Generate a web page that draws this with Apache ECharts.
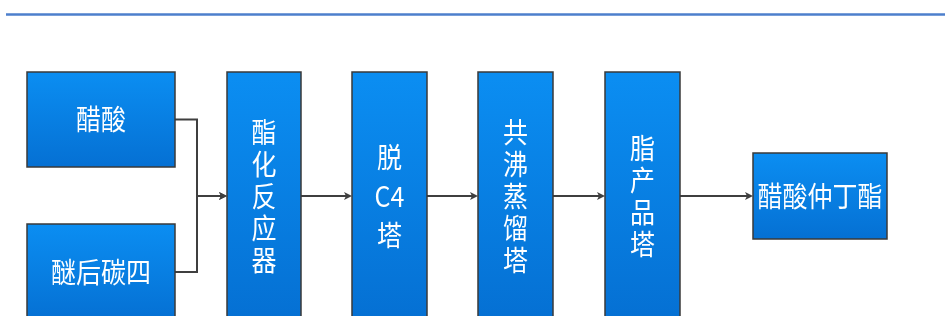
<!DOCTYPE html>
<html>
<head>
<meta charset="utf-8">
<script src="https://cdn.jsdelivr.net/npm/echarts@6/dist/echarts.min.js"></script>
<style>html,body{margin:0;padding:0;background:#fff}#c{width:945px;height:316px}</style>
</head>
<body>
<div id="c"></div>
<script>
// Node labels (vertical boxes use one line per character group)
const nodeNames = ['醋酸', '醚后碳四', '酯\n化\n反\n应\n器', '脱\nC4\n塔', '共\n沸\n蒸\n馏\n塔', '脂\n产\n品\n塔', '醋酸仲丁酯'];
// Node layout boxes in chart units: [x0, y0, x1, y1]
const nodeLayout = [
  [27, 72, 175, 167],
  [27, 224, 175, 320],
  [227, 72, 301, 320],
  [352, 72, 427, 320],
  [478, 72, 553, 320],
  [605, 72, 680, 320],
  [753, 153, 887, 239]
];
const nodeLineHeight = [28, 28, 28, 34, 28, 28, 28];
// Edges: [from, to]
const edges = [[0, 2], [1, 2], [2, 3], [3, 4], [4, 5], [5, 6]];
const junctionX = 197;

const chart = echarts.init(document.getElementById('c'));

const nodeData = nodeNames.map((n, i) => [nodeLayout[i][0], nodeLayout[i][1], nodeLayout[i][2], nodeLayout[i][3], n]);
const edgeData = edges.map(e => [e[0], e[1]]);

chart.setOption({
  animation: false,
  grid: { left: 0, right: 0, top: 0, bottom: 0 },
  xAxis: { type: 'value', min: 0, max: 945, show: false },
  yAxis: { type: 'value', min: 0, max: 316, inverse: true, show: false },
  graphic: [{
    type: 'line',
    shape: { x1: 6, y1: 14.5, x2: 945, y2: 14.5 },
    style: { stroke: '#4d7fcc', lineWidth: 2.5 }
  }],
  series: [
    {
      type: 'custom',
      clip: false,
      data: edgeData,
      renderItem: function (params, api) {
        const a = nodeLayout[api.value(0)], b = nodeLayout[api.value(1)];
        const sy = (a[1] + a[3]) / 2, ty = (b[1] + b[3]) / 2;
        let pts;
        if (Math.abs(sy - ty) < 1) {
          pts = [[a[2], sy], [b[0], ty]];
        } else {
          pts = [[a[2], sy], [junctionX, sy], [junctionX, ty], [b[0], ty]];
        }
        pts = pts.map(p => api.coord(p));
        const tip = pts[pts.length - 1];
        return {
          type: 'group',
          children: [
            { type: 'polyline', shape: { points: pts.slice(0, -1).concat([[tip[0] - 3, tip[1]]]) }, style: { stroke: '#3f3f3f', lineWidth: 2, fill: null } },
            { type: 'polygon', shape: { points: [[tip[0], tip[1]], [tip[0] - 8, tip[1] - 4], [tip[0] - 6, tip[1]], [tip[0] - 8, tip[1] + 4]] }, style: { fill: '#3f3f3f' } }
          ]
        };
      }
    },
    {
      type: 'custom',
      clip: false,
      data: nodeData,
      renderItem: function (params, api) {
        const p0 = api.coord([api.value(0), api.value(1)]);
        const p1 = api.coord([api.value(2), api.value(3)]);
        const name = nodeNames[params.dataIndex];
        return {
          type: 'group',
          children: [
            {
              type: 'rect',
              shape: { x: p0[0], y: p0[1], width: p1[0] - p0[0], height: p1[1] - p0[1] },
              style: {
                fill: new echarts.graphic.LinearGradient(0, 0, 0, 1, [
                  { offset: 0, color: '#0b8ef2' },
                  { offset: 1, color: '#0570d3' }
                ]),
                stroke: '#3a3a3a',
                lineWidth: 1.5
              }
            },
            {
              type: 'text',
              x: (p0[0] + p1[0]) / 2,
              y: (p0[1] + p1[1]) / 2,
              scaleY: 1.14,
              style: {
                text: name,
                fill: '#ffffff',
                font: '25px "Noto Sans CJK SC", "Microsoft YaHei", sans-serif',
                lineHeight: nodeLineHeight[params.dataIndex],
                align: 'center',
                verticalAlign: 'middle'
              }
            }
          ]
        };
      }
    }
  ]
});
</script>
</body>
</html>
